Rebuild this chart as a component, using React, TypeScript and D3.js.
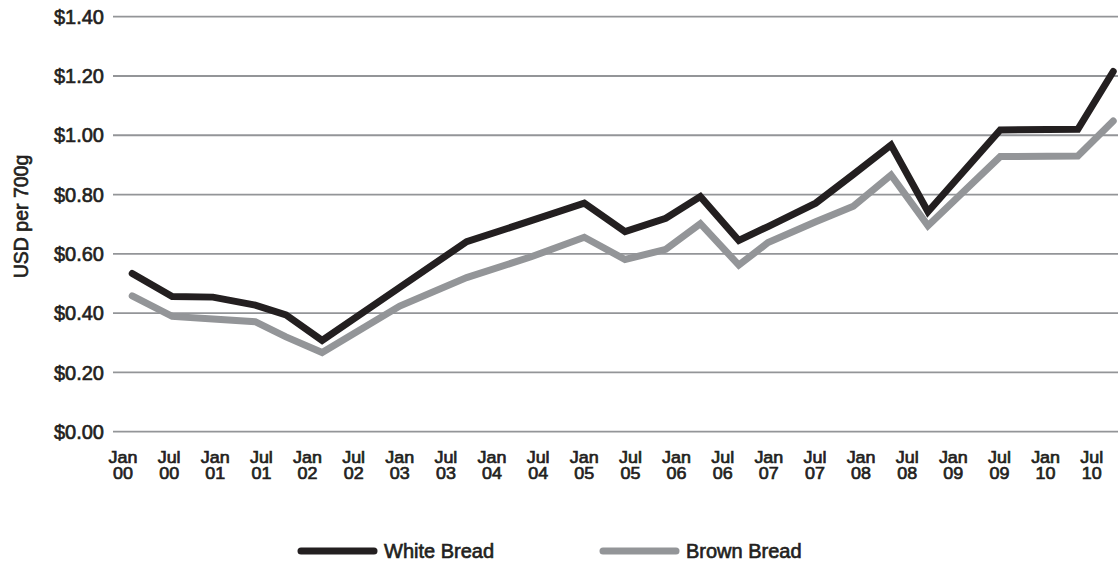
import React from "react";
import * as d3 from "d3";

// Observation dates, in months after January 2000
const months = [1.2, 6.4, 11.7, 17.2, 21.2, 25.9, 36.0, 44.7, 53.1, 60.0, 65.3, 70.6, 75.1, 80.1, 83.9, 90.1, 95.0, 99.9, 104.7, 114.1, 124.2, 128.8];

// Average price, USD per 700g loaf
const whiteBread = [0.534, 0.456, 0.454, 0.427, 0.394, 0.308, 0.487, 0.641, 0.712, 0.771, 0.675, 0.72, 0.793, 0.645, 0.692, 0.771, 0.868, 0.967, 0.742, 1.018, 1.02, 1.215];
const brownBread = [0.458, 0.389, 0.38, 0.371, 0.32, 0.267, 0.424, 0.52, 0.59, 0.656, 0.581, 0.615, 0.702, 0.562, 0.638, 0.708, 0.761, 0.866, 0.695, 0.928, 0.93, 1.048];

// Half-yearly tick labels (month offset, two-line label)
const tickMonths = d3.range(0, 127, 6);
const tickMonthNames = ["Jan", "Jul"];
const yTicks = [0, 0.2, 0.4, 0.6, 0.8, 1.0, 1.2, 1.4];

const seriesNames = ["White Bread", "Brown Bread"];
const seriesColors = ["#231f20", "#939598"];

const W = 1118;
const H = 571;
const FONT = "'Liberation Sans', Arial, Helvetica, sans-serif";
const TEXT = "#231f20";

// medium-weight text: regular face with a thin outline of the same colour
const medium = { fill: TEXT, stroke: TEXT, strokeWidth: 0.65, paintOrder: "stroke" as const };

export default function App() {
  const x = d3.scaleLinear().domain([0, 126]).range([123, 1091.7]);
  const y = d3.scaleLinear().domain([0, 1.4]).range([431.7, 16.7]);
  const gridX0 = 113;

  const line = d3
    .line<number>()
    .x((_, i) => x(months[i]))
    .y((d) => y(d))
    .curve(d3.curveLinear);

  const fmt = d3.format("$.2f");
  const series = [whiteBread, brownBread];
  const legendX = [301, 603];

  return (
    <svg
      width={W}
      height={H}
      style={{ position: "absolute", left: 0, top: 0, background: "#fff" }}
      fontFamily={FONT}
    >
      {/* horizontal gridlines and y labels */}
      {yTicks.map((t) => (
        <g key={t}>
          <line x1={gridX0} x2={W} y1={y(t)} y2={y(t)} stroke="#939598" strokeWidth={1.8} />
          <text x={104} y={y(t) + 7.2} textAnchor="end" fontSize={20} {...medium}>
            {fmt(t)}
          </text>
        </g>
      ))}

      {/* y axis title */}
      <text
        transform={`translate(28,216.5) rotate(-90)`}
        textAnchor="middle"
        fontSize={19.5}
        {...medium}
      >
        USD per 700g
      </text>

      {/* x labels */}
      {tickMonths.map((m, i) => (
        <text
          key={m}
          transform={`translate(${x(m)},0) scale(1.12,1)`}
          textAnchor="middle"
          fontSize={16}
          {...medium}
        >
          <tspan x={0} y={463.5}>
            {tickMonthNames[i % 2]}
          </tspan>
          <tspan x={0} y={479.5}>
            {d3.format("02d")(Math.floor(m / 12))}
          </tspan>
        </text>
      ))}

      {/* series lines: brown first so white sits on top */}
      {[1, 0].map((k) => (
        <path
          key={k}
          d={line(series[k]) ?? ""}
          fill="none"
          stroke={seriesColors[k]}
          strokeWidth={7}
          strokeLinejoin="miter"
          strokeLinecap="round"
        />
      ))}

      {/* legend */}
      {seriesNames.map((name, k) => {
        const lx = legendX[k];
        return (
          <g key={name}>
            <line
              x1={lx}
              x2={lx + 73}
              y1={551}
              y2={551}
              stroke={seriesColors[k]}
              strokeWidth={7}
              strokeLinecap="round"
            />
            <text x={lx + 83} y={558} fontSize={20} {...medium}>
              {name}
            </text>
          </g>
        );
      })}
    </svg>
  );
}
